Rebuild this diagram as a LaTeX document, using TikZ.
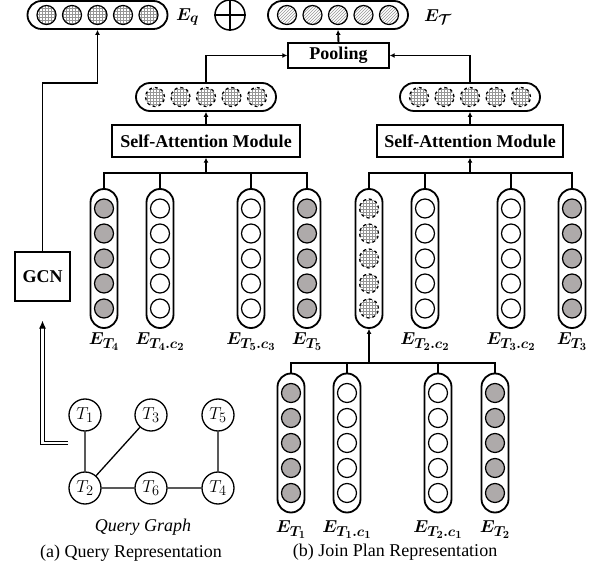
\documentclass[tikz,border=0pt]{standalone}
\usepackage[no-math]{fontspec}
\setmainfont{Liberation Serif}
\usepackage{amsmath,amsbsy}
\DeclareMathSizes{18}{18}{13.5}{11}
\usetikzlibrary{patterns,arrows.meta}
\definecolor{cellgray}{RGB}{174,170,170}
\definecolor{patgray}{RGB}{150,150,150}
\tikzset{
 hbar/.style={draw,line width=1.8pt,rounded corners=14pt,minimum width=140pt,minimum height=28pt,inner sep=0pt},
 vbar/.style={draw,line width=1.8pt,rounded corners=13.5pt,minimum width=27pt,minimum height=139pt,inner sep=0pt},
 cell/.style={circle,draw,line width=1.2pt,minimum size=19pt,inner sep=0pt},
 grayc/.style={cell,fill=cellgray},
 whitec/.style={cell,fill=white},
 gridc/.style={cell,pattern=grid,pattern color=patgray},
 dgridc/.style={cell,dashed,pattern=grid,pattern color=patgray},
 hatchc/.style={cell,pattern=north east lines,pattern color=patgray},
 box/.style={draw,line width=1.4pt,inner sep=0pt,font=\bfseries\fontsize{18}{21}\selectfont},
 conn/.style={line width=1.9pt},
 arr/.style={conn,-{Latex[length=5pt,width=5pt]}},
 dbl/.style={double,double distance=2.2pt,line width=1pt,-{Latex[length=8pt,width=7pt]}},
 tnode/.style={circle,draw,line width=1.3pt,minimum size=32pt,inner sep=0pt,font=\fontsize{18}{21}\selectfont},
 lab/.style={inner sep=0pt,font=\fontsize{18}{21}\selectfont},
}
\begin{document}
\begin{tikzpicture}[x=1pt,y=-1pt]
\useasboundingbox (0,0) rectangle (595,569);
% horizontal bars
\foreach \n/\x/\y/\st in {eq/97.5/15/gridc, et/338/15/hatchc, so1/206/97/dgridc, so2/470/97/dgridc} {
  \node[hbar] (\n) at (\x,\y) {};
  \foreach \k [count=\j] in {-51,-25.5,0,25.5,51}
    \node[\st] (\n-\j) at ([xshift=\k pt]\n.center) {};
}
\node[lab,anchor=west] (eqlab) at (176,17) {$\boldsymbol{E_q}$};
\node[lab,anchor=west] (etlab) at (424,17) {$\boldsymbol{E_{\mathcal{T}}}$};
\node[circle,draw,line width=1.5pt,minimum size=30pt,inner sep=0pt] (op) at (230,15) {};
\draw[line width=1.5pt] (op.north) -- (op.south) (op.west) -- (op.east);
% boxes
\node[box,minimum width=101pt,minimum height=25pt] (pool) at (338.5,55.5) {Pooling};
\node[box,minimum width=188pt,minimum height=32pt] (sa1) at (206,141) {Self-Attention Module};
\node[box,minimum width=186pt,minimum height=32pt] (sa2) at (470,141) {Self-Attention Module};
\node[box,minimum width=55pt,minimum height=49pt] (gcn) at (42.5,276.5) {GCN};
% vertical columns
\foreach \n/\x/\y/\st in {c1/104/258.5/grayc, c2/160/258.5/whitec, c3/251/258.5/whitec, c4/307/258.5/grayc,
  c5/369/258.5/dgridc, c6/425/258.5/whitec, c7/511/258.5/whitec, c8/572/258.5/grayc,
  d1/291/443/grayc, d2/347/443/whitec, d3/438/443/whitec, d4/495/443/grayc} {
  \node[vbar] (\n) at (\x,\y) {};
  \foreach \k [count=\j] in {-50,-25,0,25,50}
    \node[\st] (\n-\j) at ([yshift=\k pt]\n.center) {};
}
% column labels
\node[lab,anchor=north] (lc1) at ([yshift=-4pt]c1.south) {$\boldsymbol{E_{T_4}}$};
\node[lab,anchor=north] (lc2) at ([yshift=-4pt]c2.south) {$\boldsymbol{E_{T_4.c_2}}$};
\node[lab,anchor=north] (lc3) at ([yshift=-4pt]c3.south) {$\boldsymbol{E_{T_5.c_3}}$};
\node[lab,anchor=north] (lc4) at ([yshift=-4pt]c4.south) {$\boldsymbol{E_{T_5}}$};
\node[lab,anchor=north] (lc6) at ([yshift=-4pt]c6.south) {$\boldsymbol{E_{T_2.c_2}}$};
\node[lab,anchor=north] (lc7) at ([yshift=-4pt]c7.south) {$\boldsymbol{E_{T_3.c_2}}$};
\node[lab,anchor=north] (lc8) at ([yshift=-4pt]c8.south) {$\boldsymbol{E_{T_3}}$};
\node[lab,anchor=north] (ld1) at ([yshift=-7pt]d1.south) {$\boldsymbol{E_{T_1}}$};
\node[lab,anchor=north] (ld2) at ([yshift=-7pt]d2.south) {$\boldsymbol{E_{T_1.c_1}}$};
\node[lab,anchor=north] (ld3) at ([yshift=-7pt]d3.south) {$\boldsymbol{E_{T_2.c_1}}$};
\node[lab,anchor=north] (ld4) at ([yshift=-7pt]d4.south) {$\boldsymbol{E_{T_2}}$};
% trees
\coordinate (tL) at (206,173);
\coordinate (tR) at (470,173);
\coordinate (tB) at (369,363);
\draw[conn] (c1.north) |- (tL) -| (c4.north);
\draw[conn] (c2.north) -- (c2.north |- tL);
\draw[conn] (c3.north) -- (c3.north |- tL);
\draw[arr] (tL) -- (sa1.south);
\draw[conn] (c5.north) |- (tR) -| (c8.north);
\draw[conn] (c6.north) -- (c6.north |- tR);
\draw[conn] (c7.north) -- (c7.north |- tR);
\draw[arr] (tR) -- (sa2.south);
\draw[conn] (d1.north) |- (tB) -| (d4.north);
\draw[conn] (d2.north) -- (d2.north |- tB);
\draw[conn] (d3.north) -- (d3.north |- tB);
\draw[arr] (tB) -- (c5.south);
% upper arrows
\draw[arr] (sa1.north) -- (so1.south);
\draw[arr] (sa2.north) -- (so2.south);
\draw[arr] (so1.north) |- (pool.west);
\draw[arr] (so2.north) |- (pool.east);
\draw[arr] (pool.north) -- (et.south);
\coordinate (gb) at (42.5,83);
\draw[arr] (gcn.north) -- (gb) -| (eq.south);
% query graph
\node[tnode] (T1) at (85,415) {$T_1$};
\node[tnode] (T3) at (151,415) {$T_3$};
\node[tnode] (T5) at (218,415) {$T_5$};
\node[tnode] (T2) at (85,488) {$T_2$};
\node[tnode] (T6) at (151,488) {$T_6$};
\node[tnode] (T4) at (218,488) {$T_4$};
\draw[line width=1.3pt] (T1) -- (T2) (T3) -- (T2) (T2) -- (T6) (T6) -- (T4) (T5) -- (T4);
\coordinate (ds) at (68,443);
\draw[dbl] (ds) -| ([yshift=-19pt]gcn.south);
% captions
\node[lab,font=\itshape\fontsize{18}{21}\selectfont] (qg) at (143,527) {Query Graph};
\node[lab] (capa) at (131,553) {(a) Query Representation};
\node[lab] (capb) at (395,552) {(b) Join Plan Representation};
\end{tikzpicture}
\end{document}
